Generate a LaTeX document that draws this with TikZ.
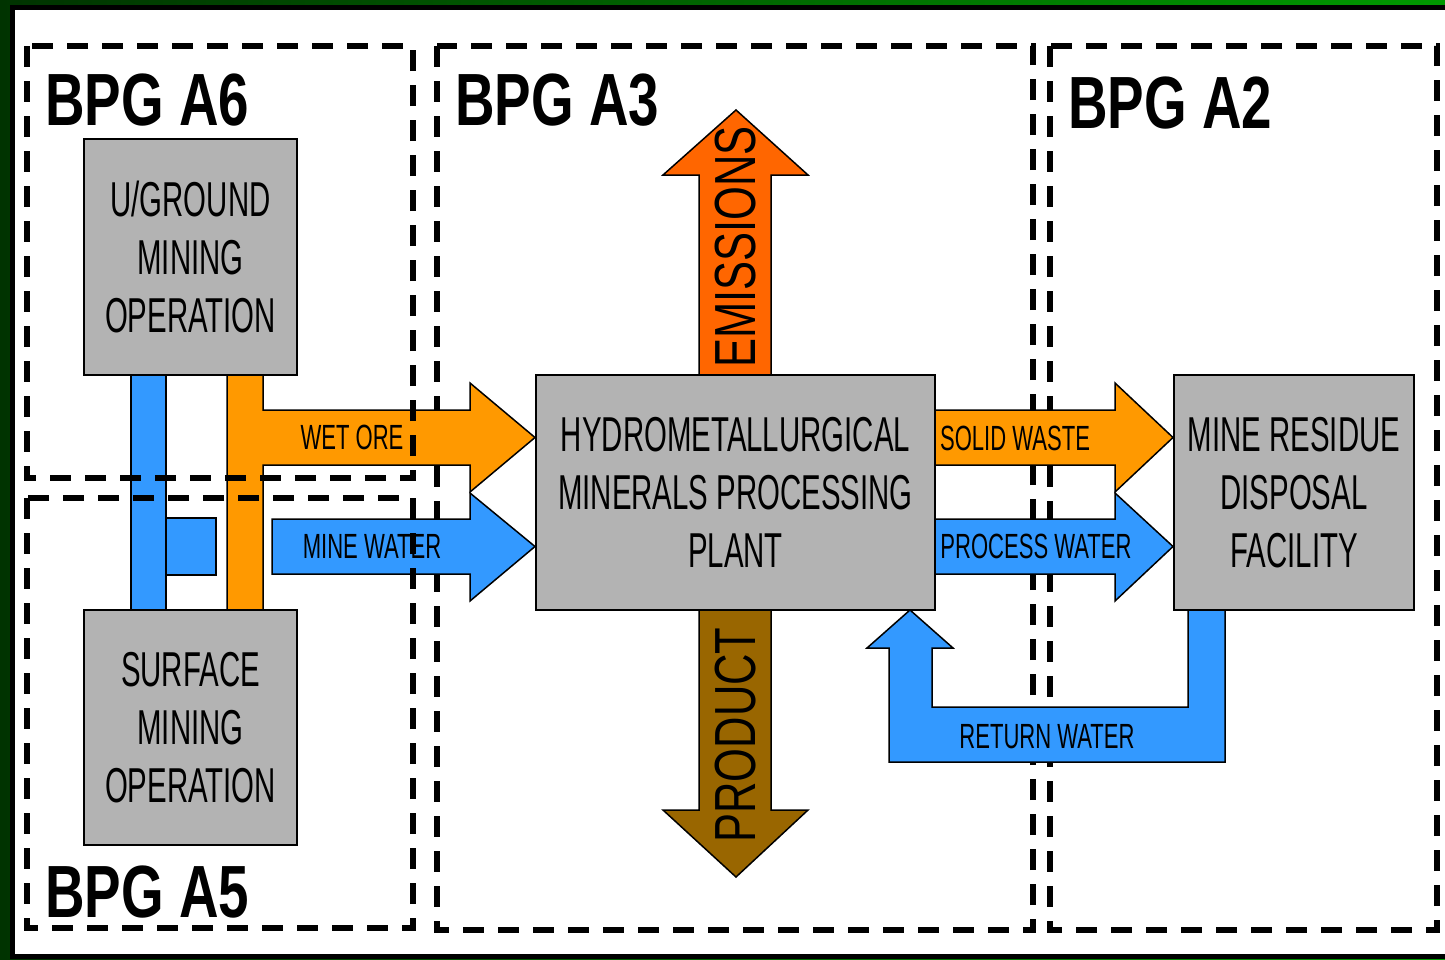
\documentclass[tikz,border=0pt]{standalone}
\usepackage{fontspec}
\setmainfont{Liberation Sans}
\newfontfamily\unitfont[FakeStretch=0.6]{Liberation Sans}
\newfontfamily\flowfont[FakeStretch=0.63]{Liberation Sans}
\newfontfamily\bigflowfont[FakeStretch=0.75]{Liberation Sans}
\newfontfamily\bpgfont[FakeStretch=0.74]{Liberation Sans}
\usepackage{xcolor}
\definecolor{oreorange}{HTML}{FF9900}
\definecolor{waterblue}{HTML}{3399FF}
\definecolor{emitred}{HTML}{FF6600}
\definecolor{prodbrown}{HTML}{996600}
\definecolor{unitgray}{HTML}{B3B3B3}

\tikzset{
    unit/.style={draw=black, line width=1.5, fill=unitgray, align=center, inner sep=0,
        font=\unitfont\fontsize{49}{58}\selectfont},
    flow/.style={draw=black, line width=1.5},
    flowlabel/.style={inner sep=0, font=\flowfont\fontsize{35}{35}\selectfont},
    biglabel/.style={inner sep=0, rotate=90, font=\bigflowfont\fontsize{58}{58}\selectfont},
    bpglabel/.style={inner sep=0, anchor=west, font=\bpgfont\bfseries\fontsize{74}{74}\selectfont},
    bpgzone/.style={line width=6, dash pattern=on 21pt off 14pt}
}

\begin{document}
\begin{tikzpicture}[x=1pt, y=-1pt]
        \useasboundingbox (0,0) rectangle (1445,959);
        \clip (0,0) rectangle (1445,959);
        \shade[left color=green!20!black, right color=green!60!black] (0,0) rectangle (1445,959);
        \draw[line width=5, fill=white] (12.5,7.5) rectangle (1460,956.5);

        % plant and disposal zones, under the flows
        \draw[bpgzone] (437,46) rectangle (1033,930);
        \draw[bpgzone] (1050,46) rectangle (1437,930);

        % flows out of the mines
        \fill[waterblue, flow] (166,518) rectangle (216,575);
        \fill[waterblue, flow] (131,375) rectangle (166,610);
        \filldraw[fill=oreorange, flow] (227,375) -- (263,375) -- (263,410) -- (470,410) -- (470,383)
            -- (535,437.5) -- (470,492) -- (470,465) -- (263,465) -- (263,610) -- (227,610) -- cycle;
        \filldraw[fill=waterblue, flow] (272,519) -- (470,519) -- (470,493) -- (535,546.5)
            -- (470,601) -- (470,574) -- (272,574) -- cycle;

        % flows out of the plant
        \filldraw[fill=oreorange, flow] (935,410) -- (1115,410) -- (1115,383) -- (1173,437.5)
            -- (1115,492) -- (1115,465) -- (935,465) -- cycle;
        \filldraw[fill=waterblue, flow] (935,519) -- (1115,519) -- (1115,493) -- (1173,546.5)
            -- (1115,601) -- (1115,574) -- (935,574) -- cycle;
        \filldraw[fill=emitred, flow] (699,375) -- (699,175) -- (663,175) -- (736,110)
            -- (808,175) -- (771,175) -- (771,375) -- cycle;
        \filldraw[fill=prodbrown, flow] (699,610) -- (699,810) -- (663,810) -- (736,877)
            -- (808,810) -- (771,810) -- (771,610) -- cycle;
        \filldraw[fill=waterblue, flow] (1188,610) -- (1188,707) -- (932,707) -- (932,648) -- (953,648)
            -- (910,610) -- (867,648) -- (889,648) -- (889,762) -- (1225,762) -- (1225,610) -- cycle;

        \node[unit, minimum width=213, minimum height=236] (uground) at (190.5,257) {U/GROUND\\MINING\\OPERATION};
        \node[unit, minimum width=213, minimum height=235] (surface) at (190.5,727.5) {SURFACE\\MINING\\OPERATION};
        \node[unit, minimum width=399, minimum height=235] (plant) at (735.5,492.5) {HYDROMETALLURGICAL\\MINERALS PROCESSING\\PLANT};
        \node[unit, minimum width=240, minimum height=235] (residue) at (1294,492.5) {MINE RESIDUE\\DISPOSAL\\FACILITY};

        \node[flowlabel] (wetore) at (352,437) {WET ORE};
        \node[flowlabel] (minewater) at (372,546) {MINE WATER};
        \node[flowlabel] (solidwaste) at (1015,438) {SOLID WASTE};
        \node[flowlabel] (processwater) at (1036,546) {PROCESS WATER};
        \node[flowlabel] (returnwater) at (1047,737) {RETURN WATER};
        \node[biglabel] (emissions) at (736,247) {EMISSIONS};
        \node[biglabel] (product) at (736,735) {PRODUCT};

        % mine zones, over the flows
        \draw[bpgzone] (27,46) rectangle (413,478);
        \draw[bpgzone] (27,498) rectangle (413,928);
        \node[bpglabel] (zonesix) at (45,100) {BPG A6};
        \node[bpglabel] (zonethree) at (455,100) {BPG A3};
        \node[bpglabel] (zonetwo) at (1068,103) {BPG A2};
        \node[bpglabel] (zonefive) at (45,892) {BPG A5};
    \end{tikzpicture}
\end{document}
